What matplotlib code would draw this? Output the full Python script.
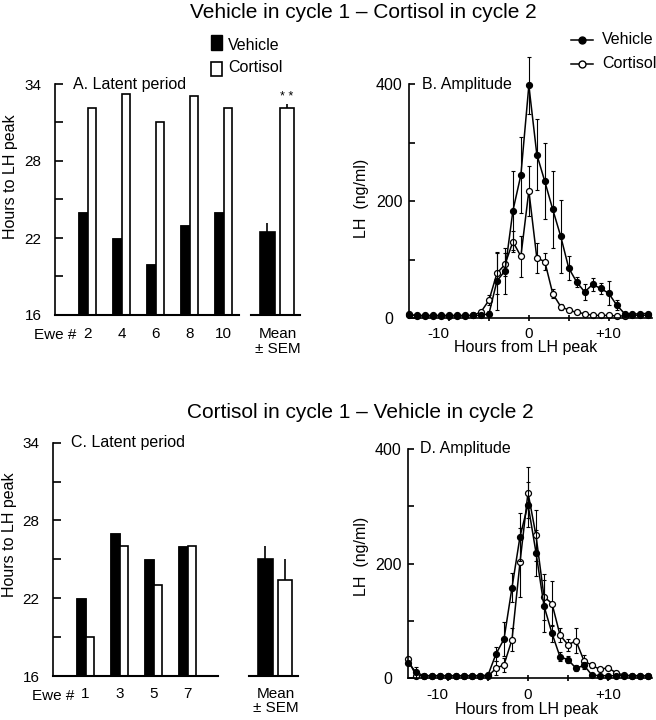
import numpy as np
import matplotlib.pyplot as plt
from matplotlib.patches import Rectangle
from matplotlib.lines import Line2D
from matplotlib.transforms import blended_transform_factory

plt.rcParams['font.family'] = ['Liberation Sans', 'DejaVu Sans']

W, H = 656, 720

# ---- data ----
ewe_a = ["2", "4", "6", "8", "10"]
veh_a = [24.0, 22.0, 20.0, 23.0, 24.0]
cor_a = [32.1, 33.2, 31.0, 33.1, 32.1]
mean_a = [22.5, 32.1]
sem_a = [0.65, 0.35]

ewe_c = ["1", "3", "5", "7"]
veh_c = [22.0, 27.0, 25.0, 26.0]
cor_c = [19.0, 26.0, 23.0, 26.0]
mean_c = [25.0, 23.4]
sem_c = [1.0, 1.65]

hours = np.arange(-15, 16)

veh_b = [5, 5, 5, 5, 5, 5, 5, 5, 5, 5, 8, 64, 81, 184, 245, 398, 280, 234, 186, 140,
         86, 62, 45, 58, 51, 43, 23, 8, 7, 8, 8]
veh_b_err = [2, 2, 2, 2, 2, 2, 2, 2, 2, 2, 4, 50, 40, 68, 65, 48, 60, 65, 65, 62,
             20, 8, 13, 11, 10, 20, 8, 3, 3, 3, 3]
cor_b = [7, 4, 4, 4, 4, 4, 4, 4, 5, 11, 31, 77, 92, 131, 106, 218, 103, 97, 42, 20,
         14, 10, 8, 5, 5, 5, 4, 4, 5, 5, 5]
cor_b_err = [2, 2, 2, 2, 2, 2, 2, 2, 2, 4, 8, 35, 20, 18, 35, 43, 25, 15, 8, 5,
             3, 3, 3, 3, 3, 3, 3, 3, 3, 3, 3]

veh_d = [27, 10, 4, 4, 4, 4, 4, 4, 4, 4, 5, 42, 68, 158, 247, 303, 219, 126, 78, 37,
         32, 17, 22, 5, 4, 4, 4, 4, 4, 4, 4]
veh_d_err = [3, 10, 2, 2, 2, 2, 2, 2, 2, 2, 2, 12, 30, 25, 42, 40, 40, 45, 15, 8,
             6, 5, 6, 2, 2, 2, 2, 2, 2, 2, 2]
cor_d = [33, 4, 4, 4, 4, 4, 4, 4, 4, 4, 3, 17, 23, 67, 202, 324, 249, 142, 130, 75,
         58, 65, 30, 22, 15, 18, 9, 5, 4, 4, 4]
cor_d_err = [3, 2, 2, 2, 2, 2, 2, 2, 2, 2, 2, 12, 12, 20, 60, 45, 45, 40, 40, 12,
             10, 22, 10, 5, 3, 3, 3, 3, 3, 3, 3]

MEAN_POS = 5.575


def fx(px):
    return px / W


def fy(py):
    return 1 - py / H


def box(left, right, top, bottom):
    return [fx(left), fy(bottom), (right - left) / W, (bottom - top) / H]


def bar_panel(ax, ewes, veh, cor, means, sems, main_end, title, label_top):
    pos = np.arange(len(ewes))
    ax.bar(pos, veh, width=-0.27, align='edge', color='black', edgecolor='black', linewidth=0.6)
    ax.bar(pos, cor, width=0.25, align='edge', color='white', edgecolor='black', linewidth=1.2)
    mpos = [MEAN_POS - 0.285, MEAN_POS + 0.285]
    ax.bar(mpos, means, width=0.42, color=['black', 'white'], edgecolor='black', linewidth=1.2,
           yerr=[[0, 0], sems], error_kw=dict(ecolor='black', elinewidth=1.2, capsize=0))
    ax.set_xlim(-0.96, 6.25)
    ax.set_ylim(16, 34)
    for s in ['top', 'right', 'bottom']:
        ax.spines[s].set_visible(False)
    ax.spines['left'].set_linewidth(1.2)
    ax.plot([-0.96, main_end], [16, 16], color='black', lw=1.5, clip_on=False)
    ax.plot([4.8, 6.25], [16, 16], color='black', lw=1.5, clip_on=False)
    ax.set_yticks([16, 19, 22, 25, 28, 31, 34], ['16', '', '22', '', '28', '', '34'])
    ax.tick_params(axis='y', direction='in', length=5.5, width=1.2, pad=15.8, labelsize=11)
    for lab in ax.get_yticklabels():
        lab.set_ha('center')
    ax.set_xticks(list(pos) + [MEAN_POS + 0.03], ewes + ["Mean\n\u00b1 SEM"])
    ax.tick_params(axis='x', length=0, pad=label_top, labelsize=11)
    for lab in ax.get_xticklabels():
        lab.set_linespacing(1.05)
    tr = blended_transform_factory(ax.transData, ax.transAxes)
    ax.text(-0.34, -0.086, "Ewe #", transform=tr, ha='right', va='center', fontsize=11)
    ax.text(0.072, 1.0, title, transform=ax.transAxes, ha='left', va='center', fontsize=11.5)
    ax.set_ylabel("Hours to LH peak", fontsize=11.5)


def line_panel(ax, veh, veh_err, cor, cor_err, title, xpad):
    ax.errorbar(hours, cor, yerr=cor_err, fmt='none', ecolor='black', elinewidth=0.8,
                capsize=1.6, capthick=0.8, clip_on=False)
    ax.plot(hours, cor, '-o', color='black', mfc='white', mec='black', ms=4.3, mew=0.9,
            lw=1.1, clip_on=False)
    ax.errorbar(hours, veh, yerr=veh_err, fmt='none', ecolor='black', elinewidth=0.8,
                capsize=1.6, capthick=0.8, clip_on=False)
    ax.plot(hours, veh, '-o', color='black', mfc='black', mec='black', ms=4.3, mew=0.9,
            lw=1.1, clip_on=False)
    ax.set_xlim(-15, 15.5)
    ax.set_ylim(0, 400)
    for s in ['top', 'right']:
        ax.spines[s].set_visible(False)
    ax.spines['left'].set_linewidth(1.2)
    ax.spines['bottom'].set_linewidth(1.2)
    ax.set_yticks([0, 100, 200, 300, 400], ['0', '', '200', '', '400'])
    ax.tick_params(axis='y', direction='in', length=4.5, width=1.2, pad=14.4, labelsize=11.5)
    for lab in ax.get_yticklabels():
        lab.set_ha('center')
    ax.set_xticks([-10, -5, 0, 5, 10], ['-10', '', '0', '', '+10'])
    ax.tick_params(axis='x', direction='inout', length=4.8, width=1.2, pad=xpad, labelsize=11)
    ax.get_xticklabels()[0].set_ha('right')
    ax.text(0.051, 1.0, title, transform=ax.transAxes, ha='left', va='center', fontsize=11.5)
    ax.set_ylabel("LH  (ng/ml)", fontsize=11.5)
    ax.set_xlabel("Hours from LH peak", fontsize=11.5)


fig = plt.figure(figsize=(6.56, 7.2), dpi=100)

ax_a = fig.add_axes(box(55, 300, 84, 315))
bar_panel(ax_a, ewe_a, veh_a, cor_a, mean_a, sem_a, 4.45, "A. Latent period", 8.8)
ax_a.yaxis.set_label_coords(-0.152, 0.60)
ax_a.text(MEAN_POS + 0.285, mean_a[1] + sem_a[1] + 0.5, "* *", ha='center', va='center', fontsize=9)

ax_c = fig.add_axes(box(53, 298, 442.7, 676))
bar_panel(ax_c, ewe_c, veh_c, cor_c, mean_c, sem_c, 3.9, "C. Latent period", 7.8)
ax_c.yaxis.set_label_coords(-0.145, 0.604)

ax_b = fig.add_axes(box(409.3, 652.4, 84.3, 318.3))
line_panel(ax_b, veh_b, veh_b_err, cor_b, cor_b_err, "B. Amplitude", 4.0)
ax_b.yaxis.set_label_coords(-0.166, 0.514)
ax_b.xaxis.set_label_coords(0.48, -0.094)

ax_d = fig.add_axes(box(408, 652, 449, 678))
line_panel(ax_d, veh_d, veh_d_err, cor_d, cor_d_err, "D. Amplitude", 5.0)
ax_d.yaxis.set_label_coords(-0.16, 0.533)
ax_d.xaxis.set_label_coords(0.488, -0.104)

# titles
fig.text(fx(363), fy(13), "Vehicle in cycle 1 \u2013 Cortisol in cycle 2", ha='center', va='center', fontsize=15)
fig.text(fx(360), fy(413), "Cortisol in cycle 1 \u2013 Vehicle in cycle 2", ha='center', va='center', fontsize=15)

# legend for bars
fig.add_artist(Rectangle((fx(211), fy(50)), 11 / W, 15 / H, transform=fig.transFigure,
                         facecolor='black', edgecolor='black', lw=1))
fig.add_artist(Rectangle((fx(211), fy(76)), 11 / W, 14 / H, transform=fig.transFigure,
                         facecolor='white', edgecolor='black', lw=1.2))
fig.text(fx(228), fy(45), "Vehicle", ha='left', va='center', fontsize=11.5)
fig.text(fx(228), fy(68), "Cortisol", ha='left', va='center', fontsize=11.5)

# legend for lines
for yy, fc, name in [(40, 'black', "Vehicle"), (64, 'white', "Cortisol")]:
    fig.add_artist(Line2D([fx(571), fx(593)], [fy(yy), fy(yy)], transform=fig.transFigure,
                          color='black', lw=1.1))
    fig.add_artist(Line2D([fx(582)], [fy(yy)], transform=fig.transFigure, marker='o',
                          ms=5, mfc=fc, mec='black', mew=1.0, color='black'))
    fig.text(fx(602), fy(yy), name, ha='left', va='center', fontsize=11.5)

fig.savefig("out.png", dpi=100)
